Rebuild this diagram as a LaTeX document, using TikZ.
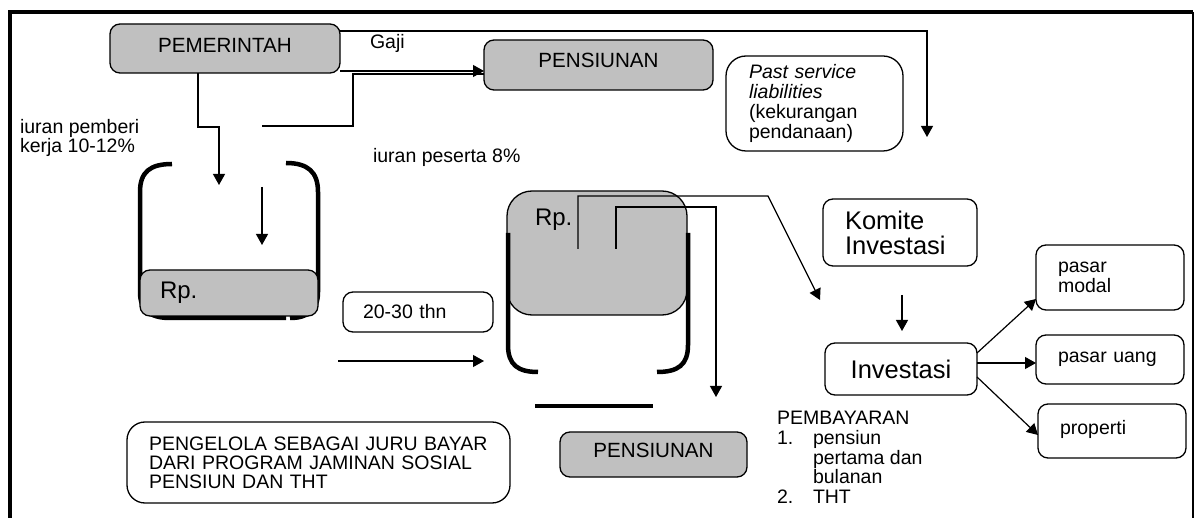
\documentclass[tikz,border=0pt]{standalone}
\usepackage{fontspec}
\setmainfont{Liberation Sans}
\usetikzlibrary{arrows.meta}
\definecolor{boxgrey}{HTML}{C0C0C0}
\begin{document}
\begin{tikzpicture}[x=1pt,y=-1pt,
  every node/.style={inner sep=0pt, outer sep=0pt},
  txt/.style={font=\fontsize{19.5}{19.8}\selectfont},
  pengtxt/.style={font=\fontsize{19.5}{18.8}\selectfont},
  headtxt/.style={font=\fontsize{20.6}{22}\selectfont},
  rptxt/.style={font=\fontsize{24}{26}\selectfont},
  bigtxt/.style={font=\fontsize{25.5}{25}\selectfont},
  box/.style={draw=black, line width=1.3pt, rounded corners=10pt},
  greybox/.style={box, fill=boxgrey},
  ln/.style={line width=1.2pt},
  arr/.style={line width=1.2pt, -{Triangle[length=11pt,width=12pt]}},
  bucket/.style={line width=4.5pt},
  frame/.style={line width=3.5pt},
]
\useasboundingbox (0,0) rectangle (1197,518);

% frame
\draw[frame] (10,518) -- (10,12) -- (1193,12);
\draw[line width=2.5pt] (1193,12) -- (1193,518);

% top boxes
\node[greybox, headtxt, minimum width=230, minimum height=49, text depth=6pt] (pem) at (225,48.5) {PEMERINTAH};
\node[greybox, headtxt, minimum width=229, minimum height=50, text depth=10pt] (pens1) at (598.5,65) {PENSIUNAN};
\node[box, txt, rounded corners=20pt, minimum width=177, minimum height=95, text width=131, align=left] (past) at (814.5,103.5)
  {\textit{Past service}\\\textit{liabilities}\\(kekurangan\\pendanaan)};

% texts
\node[txt, anchor=west] (gaji) at (370,43) {Gaji};
\node[txt, anchor=west, align=left] (ipk) at (20,138) {iuran pemberi\\kerja 10-12\%};
\node[txt, anchor=west] (ips) at (373,157) {iuran peserta 8\%};

% connectors at top
\coordinate (gc1) at (927,31);
\coordinate (gc2) at (927,137);
\draw[arr] (pem.east |- gc1) -- (gc1) -- (gc2);
\coordinate (ya) at (0,71);
\draw[arr] (pem.east |- ya) -- (pens1.west |- ya);
\coordinate (pa) at (262,126);
\coordinate (pb) at (353,126);
\coordinate (pc) at (353,74);
\draw[ln] (pa) -- (pb) -- (pc) -- (pens1.west |- pc);
\coordinate (qa) at (198,127);
\coordinate (qb) at (219,127);
\coordinate (qc) at (219,185);
\draw[arr] (pem.south -| qa) -- (qa) -- (qb) -- (qc);

% left bucket
\draw[bucket] (172,164) .. controls (150,164) and (140,172) .. (140,192) -- (140,292) .. controls (140,310) and (150,318) .. (170,318) -- (286,318);
\draw[bucket] (286,163) .. controls (308,163) and (318,172) .. (318,192) -- (318,292) .. controls (318,310) and (308,318) .. (290,318);
\coordinate (ra) at (262,187);
\coordinate (rb) at (262,245);
\draw[arr] (ra) -- (rb);
\node[greybox, rptxt, minimum width=178, minimum height=46, text width=138, align=left] (rp1) at (229,293) {Rp.};

% 20-30 thn
\node[box, txt, minimum width=150, minimum height=40, text width=110, align=left] (thn) at (418,312) {20-30 thn};
\coordinate (sa) at (338,361);
\coordinate (sb) at (484,361);
\draw[arr] (sa) -- (sb);

% middle bucket
\node[greybox, rounded corners=25pt, minimum width=180, minimum height=124] (rp2) at (597,253) {};
\node[rptxt, anchor=base west] (rp2t) at (535,226) {Rp.};
\draw[bucket] (508,233) -- (508,345) .. controls (508,365) and (518,372) .. (538,372);
\draw[bucket] (688,233) -- (688,345) .. controls (688,365) and (678,372) .. (657,372);
\coordinate (ta) at (535,406);
\coordinate (tb) at (653,406);
\draw[line width=4pt] (ta) -- (tb);

\coordinate (ma) at (578,249);
\coordinate (mb) at (578,196);
\coordinate (mc) at (768,196);
\coordinate (md) at (820,300);
\draw[arr] (ma) -- (mb) -- (mc) -- (md);
\coordinate (na) at (616,249);
\coordinate (nb) at (616,207);
\coordinate (nc) at (716,207);
\coordinate (nd) at (716,397);
\draw[arr] (na) -- (nb) -- (nc) -- (nd);

% right side
\node[box, bigtxt, minimum width=154, minimum height=67, text width=110, align=left] (kom) at (900,232.5) {Komite\\Investasi};
\node[box, bigtxt, minimum width=152, minimum height=52] (inv) at (901,369) {Investasi};
\coordinate (ka) at (902,295);
\coordinate (kb) at (902,331);
\draw[arr] (ka) -- (kb);

\node[box, txt, minimum width=148, minimum height=65, text width=104, align=left] (pm) at (1110,277.5) {pasar\\modal};
\node[box, txt, minimum width=148, minimum height=49, text width=104, align=left] (pu) at (1110,359.5) {pasar uang};
\node[box, txt, minimum width=148, minimum height=54, text width=104, align=left, text depth=8pt] (prop) at (1112,431) {properti};

\draw[arr] ([yshift=16pt]inv.east) -- ([yshift=-21.5pt]pm.west);
\draw[arr] ([yshift=6pt]inv.east) -- ([yshift=-3.5pt]pu.west);
\draw[arr] ([yshift=-8pt]inv.east) -- ([yshift=-4pt]prop.west);

% bottom
\node[box, pengtxt, rounded corners=18pt, minimum width=383, minimum height=81, text width=339, align=left] (peng) at (318.5,462.5)
  {PENGELOLA SEBAGAI JURU BAYAR\\DARI PROGRAM JAMINAN SOSIAL\\PENSIUN DAN THT};
\node[greybox, headtxt, minimum width=187, minimum height=45, text depth=9pt] (pens2) at (653.5,454.5) {PENSIUNAN};

\node[txt, anchor=north west, align=left] (bayar) at (777,411)
  {PEMBAYARAN\\
   \makebox[36pt][l]{1.}pensiun\\
   \hspace*{36pt}pertama dan\\
   \hspace*{36pt}bulanan\\
   \makebox[36pt][l]{2.}THT};
\end{tikzpicture}
\end{document}
